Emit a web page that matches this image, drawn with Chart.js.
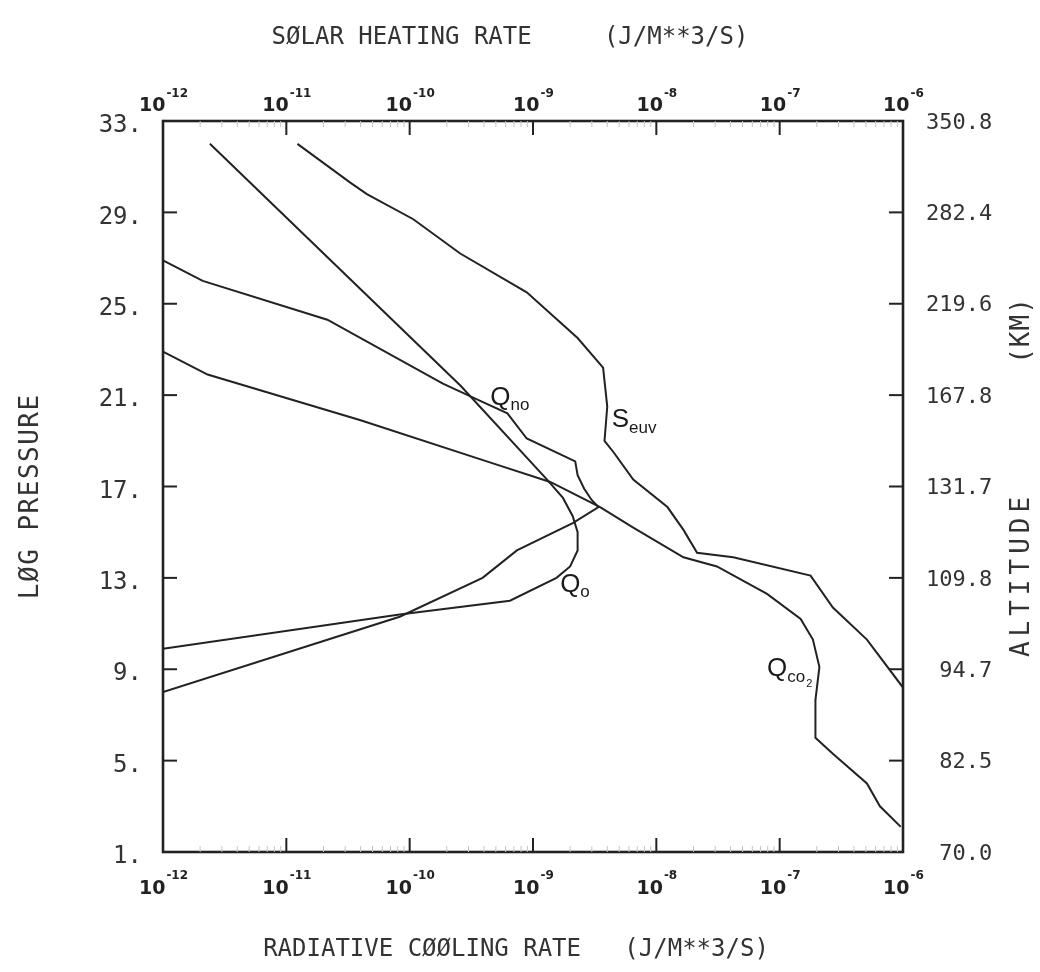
<!DOCTYPE html>
<html>
<head>
<meta charset="utf-8">
<script src="https://cdn.jsdelivr.net/npm/chart.js@4.4.1/dist/chart.umd.min.js"></script>
<style>
  html, body { margin: 0; padding: 0; background: #fff; }
  #wrap { width: 1040px; height: 972px; position: relative; }
</style>
</head>
<body>
<div id="wrap"><canvas id="chart"></canvas></div>
<script>
// axis ticks: log pressure on the left, matching altitude (km) on the right
const pressureTicks = [1, 5, 9, 13, 17, 21, 25, 29, 33];
const altitudeLabels = ['70.0', '82.5', '94.7', '109.8', '131.7', '167.8', '219.6', '282.4', '350.8'];
const decadeExps = [-12, -11, -10, -9, -8, -7, -6];

// Q_o : atomic oxygen cooling
const qoRate = [2.4e-12, 2.6e-10, 1.3e-9, 1.75e-9, 2.1e-9, 2.3e-9, 2.3e-9, 2.0e-9, 1.55e-9, 6.5e-10, 8.3e-11, 1e-12];
const qoLogP = [32.0, 21.4, 17.3, 16.5, 15.7, 15.0, 14.2, 13.5, 13.0, 12.0, 11.4, 9.9];

// Q_no : nitric oxide cooling
const qnoRate = [1e-12, 2.1e-12, 2.15e-11, 1.86e-10, 3.55e-10, 6.2e-10, 8.9e-10, 2.2e-9, 2.3e-9, 2.6e-9, 3.0e-9, 3.4e-9, 2.1e-9, 7.4e-10, 3.9e-10, 8.3e-11, 1e-12];
const qnoLogP = [26.9, 26.0, 24.3, 21.5, 20.8, 20.2, 19.1, 18.1, 17.5, 16.9, 16.4, 16.1, 15.4, 14.2, 13.0, 11.3, 8.0];

// Q_co2 : carbon dioxide cooling
const qco2Rate = [1e-12, 2.3e-12, 4.0e-11, 4.8e-10, 1.38e-9, 3.5e-9, 6.5e-9, 1.66e-8, 3.1e-8, 7.9e-8, 1.48e-7, 1.86e-7, 2.1e-7, 1.95e-7, 1.95e-7, 2.7e-7, 5.1e-7, 6.5e-7, 9.6e-7];
const qco2LogP = [22.9, 21.9, 19.9, 18.0, 17.2, 16.1, 15.2, 13.9, 13.5, 12.3, 11.2, 10.3, 9.1, 7.65, 6.0, 5.3, 4.0, 3.0, 2.1];

// S_euv : solar EUV heating
const seuvRate = [1.23e-11, 3.3e-11, 4.5e-11, 1.07e-10, 2.57e-10, 8.9e-10, 2.3e-9, 3.7e-9, 4.0e-9, 3.8e-9, 4.5e-9, 6.5e-9, 1.23e-8, 1.66e-8, 2.14e-8, 4.2e-8, 1.78e-7, 2.7e-7, 5.1e-7, 1e-6];
const seuvLogP = [32.0, 30.3, 29.8, 28.7, 27.2, 25.5, 23.5, 22.2, 20.5, 19.0, 18.5, 17.3, 16.1, 15.1, 14.1, 13.9, 13.1, 11.7, 10.3, 8.2];

// curve names and where they sit (rate, log pressure)
const curveNames = [
  { main: 'Q', sub: 'no', rate: 4.5e-10, logP: 20.9 },
  { main: 'S', sub: 'euv', rate: 4.35e-9, logP: 19.9 },
  { main: 'Q', sub: 'o', rate: 1.66e-9, logP: 12.7 },
  { main: 'Q', sub: 'co', sub2: '2', rate: 7.9e-8, logP: 9.0 }
];

const INK = '#222';
const MONO = "'DejaVu Sans Mono', monospace";
const SANS = "'Liberation Sans', Arial, sans-serif";

function toPoints(xs, ys) {
  return xs.map((x, i) => ({ x: x, y: ys[i] }));
}

function curve(label, xs, ys) {
  return {
    label: label,
    data: toPoints(xs, ys),
    showLine: true,
    borderColor: INK,
    borderWidth: 2,
    pointRadius: 0,
    tension: 0,
    fill: false
  };
}

function seg(ctx, x1, y1, x2, y2) {
  ctx.beginPath();
  ctx.moveTo(x1, y1);
  ctx.lineTo(x2, y2);
  ctx.stroke();
}

function spacedText(ctx, text, x, y, spacing) {
  ctx.letterSpacing = spacing + 'px';
  ctx.fillText(text, x + spacing / 2, y);
  ctx.letterSpacing = '0px';
}

// frame, inward ticks, power-of-ten labels, titles and curve names
const decorPlugin = {
  id: 'decor',
  afterDatasetsDraw(chart) {
    const { ctx, chartArea: a, scales } = chart;
    ctx.save();

    ctx.strokeStyle = INK;
    ctx.lineWidth = 2.6;
    ctx.strokeRect(a.left, a.top, a.right - a.left, a.bottom - a.top);

    // major ticks
    ctx.lineWidth = 2;
    pressureTicks.forEach(v => {
      const y = scales.y.getPixelForValue(v);
      seg(ctx, a.left, y, a.left + 14, y);
      seg(ctx, a.right, y, a.right - 14, y);
    });
    decadeExps.forEach(e => {
      const x = scales.x.getPixelForValue(Math.pow(10, e));
      seg(ctx, x, a.bottom, x, a.bottom - 14);
      seg(ctx, x, a.top, x, a.top + 14);
    });

    // minor ticks
    ctx.strokeStyle = '#c4c4c4';
    ctx.lineWidth = 1;
    decadeExps.slice(0, -1).forEach(e => {
      for (let k = 2; k < 10; k++) {
        const x = scales.x.getPixelForValue(k * Math.pow(10, e));
        seg(ctx, x, a.top, x, a.top + 6);
        seg(ctx, x, a.bottom, x, a.bottom - 6);
      }
    });

    // 10^n labels on top and bottom axes
    ctx.fillStyle = INK;
    ctx.textBaseline = 'alphabetic';
    ctx.textAlign = 'left';
    decadeExps.forEach(e => {
      const x = scales.x.getPixelForValue(Math.pow(10, e));
      const exp = String(e);
      ctx.font = "bold 19px 'DejaVu Sans', sans-serif";
      const w10 = ctx.measureText('10').width;
      ctx.font = "bold 12px 'DejaVu Sans', sans-serif";
      const wExp = ctx.measureText(exp).width;
      const x0 = x - (w10 + wExp) / 2;
      [[a.bottom + 42, a.bottom + 27], [a.top - 10, a.top - 24]].forEach(([base, expBase]) => {
        ctx.font = "bold 19px 'DejaVu Sans', sans-serif";
        ctx.fillText('10', x0, base);
        ctx.font = "bold 12px 'DejaVu Sans', sans-serif";
        ctx.fillText(exp, x0 + w10 + 1, expBase);
      });
    });

    // axis titles
    ctx.fillStyle = '#333';
    ctx.textAlign = 'center';
    ctx.textBaseline = 'middle';
    ctx.font = '24px ' + MONO;
    ctx.fillText('SØLAR HEATING RATE     (J/M**3/S)', 510, 38);
    ctx.fillText('RADIATIVE CØØLING RATE   (J/M**3/S)', 516, 950);

    ctx.save();
    ctx.translate(31, 497);
    ctx.rotate(-Math.PI / 2);
    ctx.font = '26px ' + MONO;
    spacedText(ctx, 'LØG PRESSURE', 0, 0, 1.5);
    ctx.restore();

    ctx.save();
    ctx.translate(1022, 480);
    ctx.rotate(-Math.PI / 2);
    ctx.font = '26px ' + MONO;
    spacedText(ctx, 'ALTITUDE', -97, 0, 5);
    spacedText(ctx, '(KM)', 149, 0, 1);
    ctx.restore();

    // curve names
    ctx.fillStyle = '#1a1a1a';
    ctx.textAlign = 'left';
    curveNames.forEach(n => {
      const px = scales.x.getPixelForValue(n.rate);
      const py = scales.y.getPixelForValue(n.logP);
      ctx.font = '26px ' + SANS;
      ctx.textBaseline = 'middle';
      ctx.fillText(n.main, px, py);
      const wm = ctx.measureText(n.main).width;
      ctx.font = '17px ' + SANS;
      ctx.fillText(n.sub, px + wm, py + 8);
      if (n.sub2) {
        const ws = ctx.measureText(n.sub).width;
        ctx.font = '11px ' + SANS;
        ctx.fillText(n.sub2, px + wm + ws + 1, py + 15);
      }
    });

    ctx.restore();
  }
};

const logX = (position, size) => ({
  type: 'logarithmic',
  position: position,
  min: 1e-12,
  max: 1e-6,
  grid: { display: false },
  border: { display: false },
  ticks: { display: false },
  afterBuildTicks: scale => { scale.ticks = decadeExps.map(e => ({ value: Math.pow(10, e) })); },
  afterFit: scale => { scale.height = size; }
});

new Chart(document.getElementById('chart'), {
  type: 'scatter',
  data: {
    datasets: [
      curve('Q_o', qoRate, qoLogP),
      curve('Q_no', qnoRate, qnoLogP),
      curve('Q_co2', qco2Rate, qco2LogP),
      curve('S_euv', seuvRate, seuvLogP)
    ]
  },
  options: {
    responsive: true,
    maintainAspectRatio: false,
    animation: false,
    layout: { padding: 0 },
    plugins: {
      legend: { display: false },
      tooltip: { enabled: false }
    },
    scales: {
      x: logX('bottom', 120),
      x2: logX('top', 121),
      y: {
        type: 'linear',
        position: 'left',
        min: 1,
        max: 33,
        grid: { display: false },
        border: { display: false },
        afterBuildTicks: scale => { scale.ticks = pressureTicks.map(v => ({ value: v })); },
        afterFit: scale => { scale.width = 163; },
        ticks: {
          padding: 13,
          labelOffset: 5,
          color: '#333',
          font: { family: MONO, size: 24 },
          callback: v => v + '.'
        }
      },
      y2: {
        type: 'linear',
        position: 'right',
        min: 1,
        max: 33,
        grid: { display: false },
        border: { display: false },
        afterBuildTicks: scale => { scale.ticks = pressureTicks.map(v => ({ value: v })); },
        afterFit: scale => { scale.width = 137; },
        ticks: {
          padding: 15,
          labelOffset: 2,
          color: '#333',
          font: { family: MONO, size: 22 },
          callback: v => altitudeLabels[pressureTicks.indexOf(v)].padStart(5, ' ')
        }
      }
    }
  },
  plugins: [decorPlugin]
});
</script>
</body>
</html>
